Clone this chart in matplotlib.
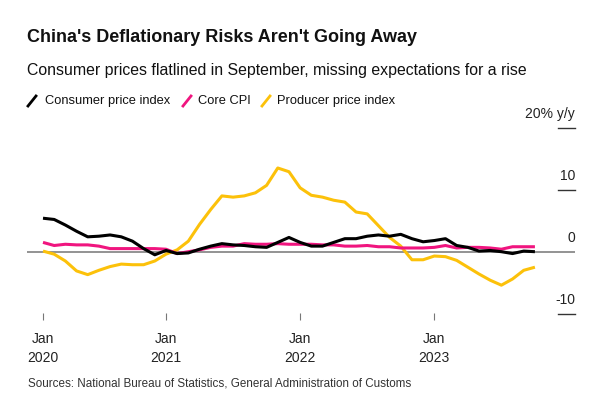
import matplotlib
matplotlib.use("Agg")
import matplotlib.pyplot as plt
from matplotlib.lines import Line2D

plt.rcParams['font.family'] = ['Liberation Sans', 'DejaVu Sans']

# Monthly data, Jan 2020 .. Sep 2023 (% y/y)
cpi = [5.4, 5.2, 4.3, 3.3, 2.4, 2.5, 2.7, 2.4, 1.7, 0.5, -0.5, 0.2,
       -0.3, -0.2, 0.4, 0.9, 1.3, 1.1, 1.0, 0.8, 0.7, 1.5, 2.3, 1.5,
       0.9, 0.9, 1.5, 2.1, 2.1, 2.5, 2.7, 2.5, 2.8, 2.1, 1.6, 1.8,
       2.1, 1.0, 0.7, 0.1, 0.2, 0.0, -0.3, 0.1, 0.0]
core_cpi = [1.5, 1.0, 1.2, 1.1, 1.1, 0.9, 0.5, 0.5, 0.5, 0.5, 0.5, 0.4,
            -0.3, 0.0, 0.3, 0.7, 0.9, 0.9, 1.3, 1.2, 1.2, 1.3, 1.2, 1.2,
            1.2, 1.1, 1.1, 0.9, 0.9, 1.0, 0.8, 0.8, 0.6, 0.6, 0.6, 0.7,
            1.0, 0.6, 0.7, 0.7, 0.6, 0.4, 0.8, 0.8, 0.8]
ppi = [0.1, -0.4, -1.5, -3.1, -3.7, -3.0, -2.4, -2.0, -2.1, -2.1, -1.5, -0.4,
       0.3, 1.7, 4.4, 6.8, 9.0, 8.8, 9.0, 9.5, 10.7, 13.5, 12.9, 10.3,
       9.1, 8.8, 8.3, 8.0, 6.4, 6.1, 4.2, 2.3, 0.9, -1.3, -1.3, -0.7,
       -0.8, -1.4, -2.5, -3.6, -4.6, -5.4, -4.4, -3.0, -2.5]
series_names = ["Consumer price index", "Core CPI", "Producer price index"]
tick_pos = [0, 11, 23, 35]
tick_labels = ["Jan\n2020", "Jan\n2021", "Jan\n2022", "Jan\n2023"]
y_ticks = [20, 10, 0, -10]
y_labels = ["20% y/y", "10", "0", "-10"]

C_BLACK = "#000000"
C_PINK = "#f0157f"
C_YELLOW = "#fcc10a"

W, H = 600, 400
fig = plt.figure(figsize=(6, 4), dpi=100)
ax_l, ax_r, ax_t, ax_b = 27, 575, 120, 313
ax = fig.add_axes([ax_l / W, 1 - ax_b / H, (ax_r - ax_l) / W, (ax_b - ax_t) / H])

pxm = 11.18
x0 = 43
ax.set_xlim((ax_l - x0) / pxm, (ax_r - x0) / pxm)
ppu = 6.2
y0 = 251.7
ax.set_ylim((y0 - ax_b) / ppu, (y0 - ax_t) / ppu)

x = list(range(len(cpi)))
ax.axhline(0, color="#8a8a8a", lw=1.3, zorder=1)
ax.plot(x, ppi, color=C_YELLOW, lw=2.2, zorder=2, solid_capstyle="butt")
ax.plot(x, core_cpi, color=C_PINK, lw=2.2, zorder=3, solid_capstyle="butt")
ax.plot(x, cpi, color=C_BLACK, lw=2.2, zorder=4, solid_capstyle="butt")

# right-side tick marks and labels
for v, lab in zip(y_ticks, y_labels):
    if v != 0:
        ax.plot([(558 - x0) / pxm, (ax_r - x0) / pxm], [v, v], color="#333333",
                lw=1.0, clip_on=False, zorder=1)
    ax.text((ax_r - x0) / pxm, v + 13.5 / ppu, lab, ha="right", va="center",
            fontsize=10, color="#222222")

for s in ax.spines.values():
    s.set_visible(False)
ax.set_yticks([])
ax.set_xticks(tick_pos)
ax.set_xticklabels(tick_labels, fontsize=10, color="#222222", linespacing=1.4)
ax.tick_params(axis="x", length=5, width=0.8, color="#777777", pad=9)

# title, subtitle
fig.text(27 / W, 1 - 37 / H, "China's Deflationary Risks Aren't Going Away",
         fontsize=13, fontweight="bold", ha="left", va="center", color="#111111")
fig.text(27 / W, 1 - 71 / H,
         "Consumer prices flatlined in September, missing expectations for a rise",
         fontsize=11.4, ha="left", va="center", color="#111111")

# legend
leg_y = 1 - 101 / H
items = [(28, 45, C_BLACK, series_names[0]),
         (183, 198, C_PINK, series_names[1]),
         (262, 277, C_YELLOW, series_names[2])]
for xs, xt, c, name in items:
    fig.add_artist(Line2D([xs / W, (xs + 8) / W], [leg_y - 5 / H, leg_y + 5 / H],
                          color=c, lw=2.0, transform=fig.transFigure))
    fig.text(xt / W, leg_y, name, fontsize=9.3, ha="left", va="center", color="#111111")

fig.text(28 / W, 1 - 383 / H,
         "Sources: National Bureau of Statistics, General Administration of Customs",
         fontsize=8.4, ha="left", va="center", color="#333333")

fig.savefig("out.png", dpi=100)
